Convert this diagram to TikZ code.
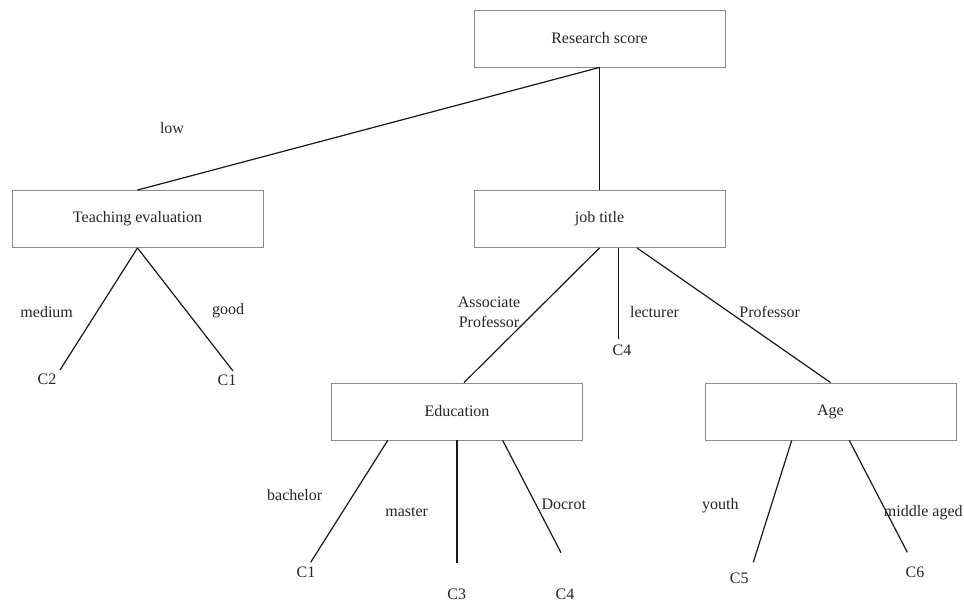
\documentclass[tikz,border=0pt]{standalone}
\usepackage{fontspec}
\setmainfont{Liberation Serif}
\begin{document}
\begin{tikzpicture}[x=1pt,y=-1pt,
  box/.style={draw=black!45, line width=0.9pt, minimum width=251pt, minimum height=57pt,
    inner sep=0pt, text=black!85, font=\fontsize{16}{19}\selectfont},
  lbl/.style={inner sep=0pt, text height=11pt, text depth=0pt, text=black!85,
    font=\fontsize{16}{19}\selectfont},
  conn/.style={line width=1.2pt, draw=black!90}]
\useasboundingbox[fill=white] (0,0) rectangle (964,601);

% boxes
\node[box] (rs)  at (599.5,38.5)  {Research score};
\node[box] (te)  at (137.5,219)   {Teaching evaluation};
\node[box] (jt)  at (599.5,219)   {job title};
\node[box] (ed)  at (457,411.5)   {Education};
\node[box] (age) at (830.5,411.5) {Age};

% free ends
\coordinate (c2e)  at (60,370);
\coordinate (c1ae) at (233,371);
\coordinate (c4ae) at (618.5,339.3);
\coordinate (c1be) at (310.7,562.3);
\coordinate (c3e)  at (457,563);
\coordinate (c4be) at (561,552.7);
\coordinate (c5e)  at (753.3,562.3);
\coordinate (c6e)  at (907.3,552.3);

% connectors
\draw[conn] (rs.south) -- (te.north);
\draw[conn] (rs.south) -- (jt.north);
\draw[conn] (te.south) -- (c2e);
\draw[conn] (te.south) -- (c1ae);
\draw[conn] (jt.south) -- ([xshift=7pt]ed.north);
\draw[conn] ([xshift=19pt]jt.south) -- (c4ae);
\draw[conn] ([xshift=37.5pt]jt.south) -- (age.north);
\draw[conn] ([xshift=-69.3pt]ed.south) -- (c1be);
\draw[conn] (ed.south) -- (c3e);
\draw[conn] ([xshift=45.7pt]ed.south) -- (c4be);
\draw[conn] ([xshift=-38.8pt]age.south) -- (c5e);
\draw[conn] ([xshift=18.8pt]age.south) -- (c6e);

% edge labels
\node[lbl] (llow)  at (172,128)   {low};
\node[lbl] (lmed)  at (46.7,311.7) {medium};
\node[lbl] (lgood) at (228,309)   {good};
\node[inner sep=0pt, align=center, text=black!85, font=\fontsize{16}{19.3}\selectfont]
  (lassoc) at (489,312.4) {Associate\\Professor};
\node[lbl] (llect) at (654.5,312.3) {lecturer};
\node[lbl] (lprof) at (769.7,312.3) {Professor};
\node[lbl] (lbach) at (294.7,495)   {bachelor};
\node[lbl] (lmast) at (406.7,510.7) {master};
\node[lbl] (ldoc)  at (563.8,504.3) {Docrot};
\node[lbl] (lyou)  at (720.3,504.3) {youth};
\node[lbl] (lmid)  at (923.3,510.7) {middle aged};

% leaf labels
\node[lbl] (c2)  at (47,379.3)  {C2};
\node[lbl] (c1a) at (227,380)   {C1};
\node[lbl] (c4a) at (622,350)   {C4};
\node[lbl] (c1b) at (306,571.7) {C1};
\node[lbl] (c3)  at (456.7,593.5) {C3};
\node[lbl] (c4b) at (565,593.5)   {C4};
\node[lbl] (c5)  at (739.3,578.3) {C5};
\node[lbl] (c6)  at (915,571.7) {C6};
\end{tikzpicture}
\end{document}
